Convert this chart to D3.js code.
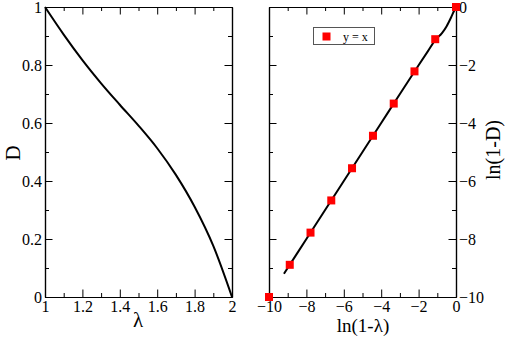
<!DOCTYPE html>
<html lang="en">
    <head>
        <meta charset="utf-8">
        <title>D vs lambda</title>
        <script type="text/javascript" src="https://d3js.org/d3.v7.min.js"></script>
        <style type="text/css">
            body { margin: 0; background: #fff; }
            text { font-family: "Liberation Serif", "DejaVu Serif", serif; }
        </style>
    </head>
    <body>
        <script type="text/javascript">

        // Data - left panel, D(lambda)
        const lambdaVals = [1.0, 1.1, 1.2, 1.3, 1.4, 1.5, 1.6, 1.7, 1.8, 1.9, 2.0];
        const dVals      = [1.0, 0.905, 0.817, 0.737, 0.663, 0.591, 0.513, 0.421, 0.311, 0.176, 0.0];

        // Data - right panel, ln(1-D) vs ln(1-lambda)
        const lnLambda = [-9.2, -8, -6, -4, -3, -2, -1.5, -1.1, -0.75, -0.5, -0.25, -0.1, 0];
        const lnD      = [-9.2, -8, -6, -4, -3, -2.01, -1.52, -1.13, -0.9, -0.66, -0.34, -0.13, 0];

        // y = x reference squares
        const refX = [-10, -8.89, -7.78, -6.67, -5.56, -4.44, -3.33, -2.22, -1.11, 0];
        const refY = [-10, -8.89, -7.78, -6.67, -5.56, -4.44, -3.33, -2.22, -1.11, 0];

        // Ticks
        const leftXTicks = [1, 1.2, 1.4, 1.6, 1.8, 2];
        const leftXMinor = [1.1, 1.3, 1.5, 1.7, 1.9];
        const leftYTicks = [0, 0.2, 0.4, 0.6, 0.8, 1];
        const leftYMinor = [0.1, 0.3, 0.5, 0.7, 0.9];
        const rightTicks = [-10, -8, -6, -4, -2, 0];
        const rightMinor = [-9, -7, -5, -3, -1];

        const width = 507;
        const height = 338;
        const yTop = 7, yBottom = 297;
        const majorLen = 7.5, minorLen = 4;
        const serif = '"Liberation Serif", "DejaVu Serif", serif';

        const svg = d3.select("body")
                    .append("svg")
                    .attr("width", width)
                    .attr("height", height);

        // Scales
        const xL = d3.scaleLinear().domain([1, 2]).range([45, 232]);
        const yL = d3.scaleLinear().domain([0, 1]).range([yBottom, yTop]);
        const xR = d3.scaleLinear().domain([-10, 0]).range([269, 456]);
        const yR = d3.scaleLinear().domain([-10, 0]).range([yBottom, yTop]);

        // draws a frame with inward ticks on all four sides
        function frame(x, y, xt, xm, yt, ym, yLabelsRight, xFmt, yFmt) {
            const g = svg.append("g");
            const x0 = x.range()[0], x1 = x.range()[1];

            const addAxis = (axis, tr) => {
                const a = g.append("g").attr("transform", tr).call(axis);
                a.attr("font-family", serif);
                a.selectAll("text")
                    .attr("fill", "#000")
                    .style("font-family", serif)
                    .style("font-size", "16px");
                a.selectAll("line").attr("stroke", "#000");
                a.select(".domain").attr("stroke", "#000").attr("stroke-width", 1.2);
                return a;
            };

            // bottom
            addAxis(d3.axisBottom(x).tickValues(xt).tickFormat(xFmt).tickSize(-majorLen).tickSizeOuter(0).tickPadding(4),
                    `translate(0,${yBottom})`);
            addAxis(d3.axisBottom(x).tickValues(xm).tickFormat("").tickSize(-minorLen).tickSizeOuter(0),
                    `translate(0,${yBottom})`);
            // top
            addAxis(d3.axisTop(x).tickValues(xt).tickFormat("").tickSize(-majorLen).tickSizeOuter(0),
                    `translate(0,${yTop})`);
            addAxis(d3.axisTop(x).tickValues(xm).tickFormat("").tickSize(-minorLen).tickSizeOuter(0),
                    `translate(0,${yTop})`);
            // left
            addAxis(d3.axisLeft(y).tickValues(yt).tickFormat(yLabelsRight ? "" : yFmt).tickSize(-majorLen).tickSizeOuter(0).tickPadding(3),
                    `translate(${x0},0)`);
            addAxis(d3.axisLeft(y).tickValues(ym).tickFormat("").tickSize(-minorLen).tickSizeOuter(0),
                    `translate(${x0},0)`);
            // right
            addAxis(d3.axisRight(y).tickValues(yt).tickFormat(yLabelsRight ? yFmt : "").tickSize(-majorLen).tickSizeOuter(0).tickPadding(3),
                    `translate(${x1},0)`);
            addAxis(d3.axisRight(y).tickValues(ym).tickFormat("").tickSize(-minorLen).tickSizeOuter(0),
                    `translate(${x1},0)`);
        }

        frame(xL, yL, leftXTicks, leftXMinor, leftYTicks, leftYMinor, false, d3.format("~g"), d3.format("~g"));
        frame(xR, yR, rightTicks, rightMinor, rightTicks, rightMinor, true, d3.format("d"), d3.format("d"));

        // Left curve
        const leftData = lambdaVals.map((l, i) => ({x: l, y: dVals[i]}));
        svg.append("path")
            .datum(leftData)
            .attr("fill", "none")
            .attr("stroke", "#000")
            .attr("stroke-width", 2)
            .attr("d", d3.line().x(d => xL(d.x)).y(d => yL(d.y)).curve(d3.curveMonotoneX));

        // Right curve
        const rightData = lnLambda.map((l, i) => ({x: l, y: lnD[i]}));
        svg.append("path")
            .datum(rightData)
            .attr("fill", "none")
            .attr("stroke", "#000")
            .attr("stroke-width", 2)
            .attr("d", d3.line().x(d => xR(d.x)).y(d => yR(d.y)).curve(d3.curveMonotoneX));

        // y = x squares
        const sq = 8;
        svg.selectAll("rect.ref")
            .data(refX.map((v, i) => ({x: v, y: refY[i]})))
            .enter()
            .append("rect")
            .attr("class", "ref")
            .attr("x", d => xR(d.x) - sq / 2)
            .attr("y", d => yR(d.y) - sq / 2)
            .attr("width", sq)
            .attr("height", sq)
            .attr("fill", "#ff0000");

        // Legend
        svg.append("rect")
            .attr("x", 313.5).attr("y", 27.5)
            .attr("width", 61).attr("height", 17)
            .attr("fill", "#fff")
            .attr("stroke", "#555");
        svg.append("rect")
            .attr("x", 322.5).attr("y", 32.5)
            .attr("width", sq).attr("height", sq)
            .attr("fill", "#ff0000");
        svg.append("text")
            .attr("x", 343).attr("y", 41)
            .style("font-size", "12px")
            .text("y = x");

        // Axis titles
        svg.append("text")
            .attr("x", 138).attr("y", 327)
            .attr("text-anchor", "middle")
            .style("font-size", "21px")
            .text("λ");
        svg.append("text")
            .attr("transform", "translate(20,153) rotate(-90)")
            .attr("text-anchor", "middle")
            .style("font-size", "21px")
            .text("D");
        svg.append("text")
            .attr("x", 363).attr("y", 332)
            .attr("text-anchor", "middle")
            .style("font-size", "19px")
            .text("ln(1-λ)");
        svg.append("text")
            .attr("transform", "translate(500,150) rotate(-90)")
            .attr("text-anchor", "middle")
            .style("font-size", "20px")
            .text("ln(1-D)");

        </script>
    </body>
</html>
